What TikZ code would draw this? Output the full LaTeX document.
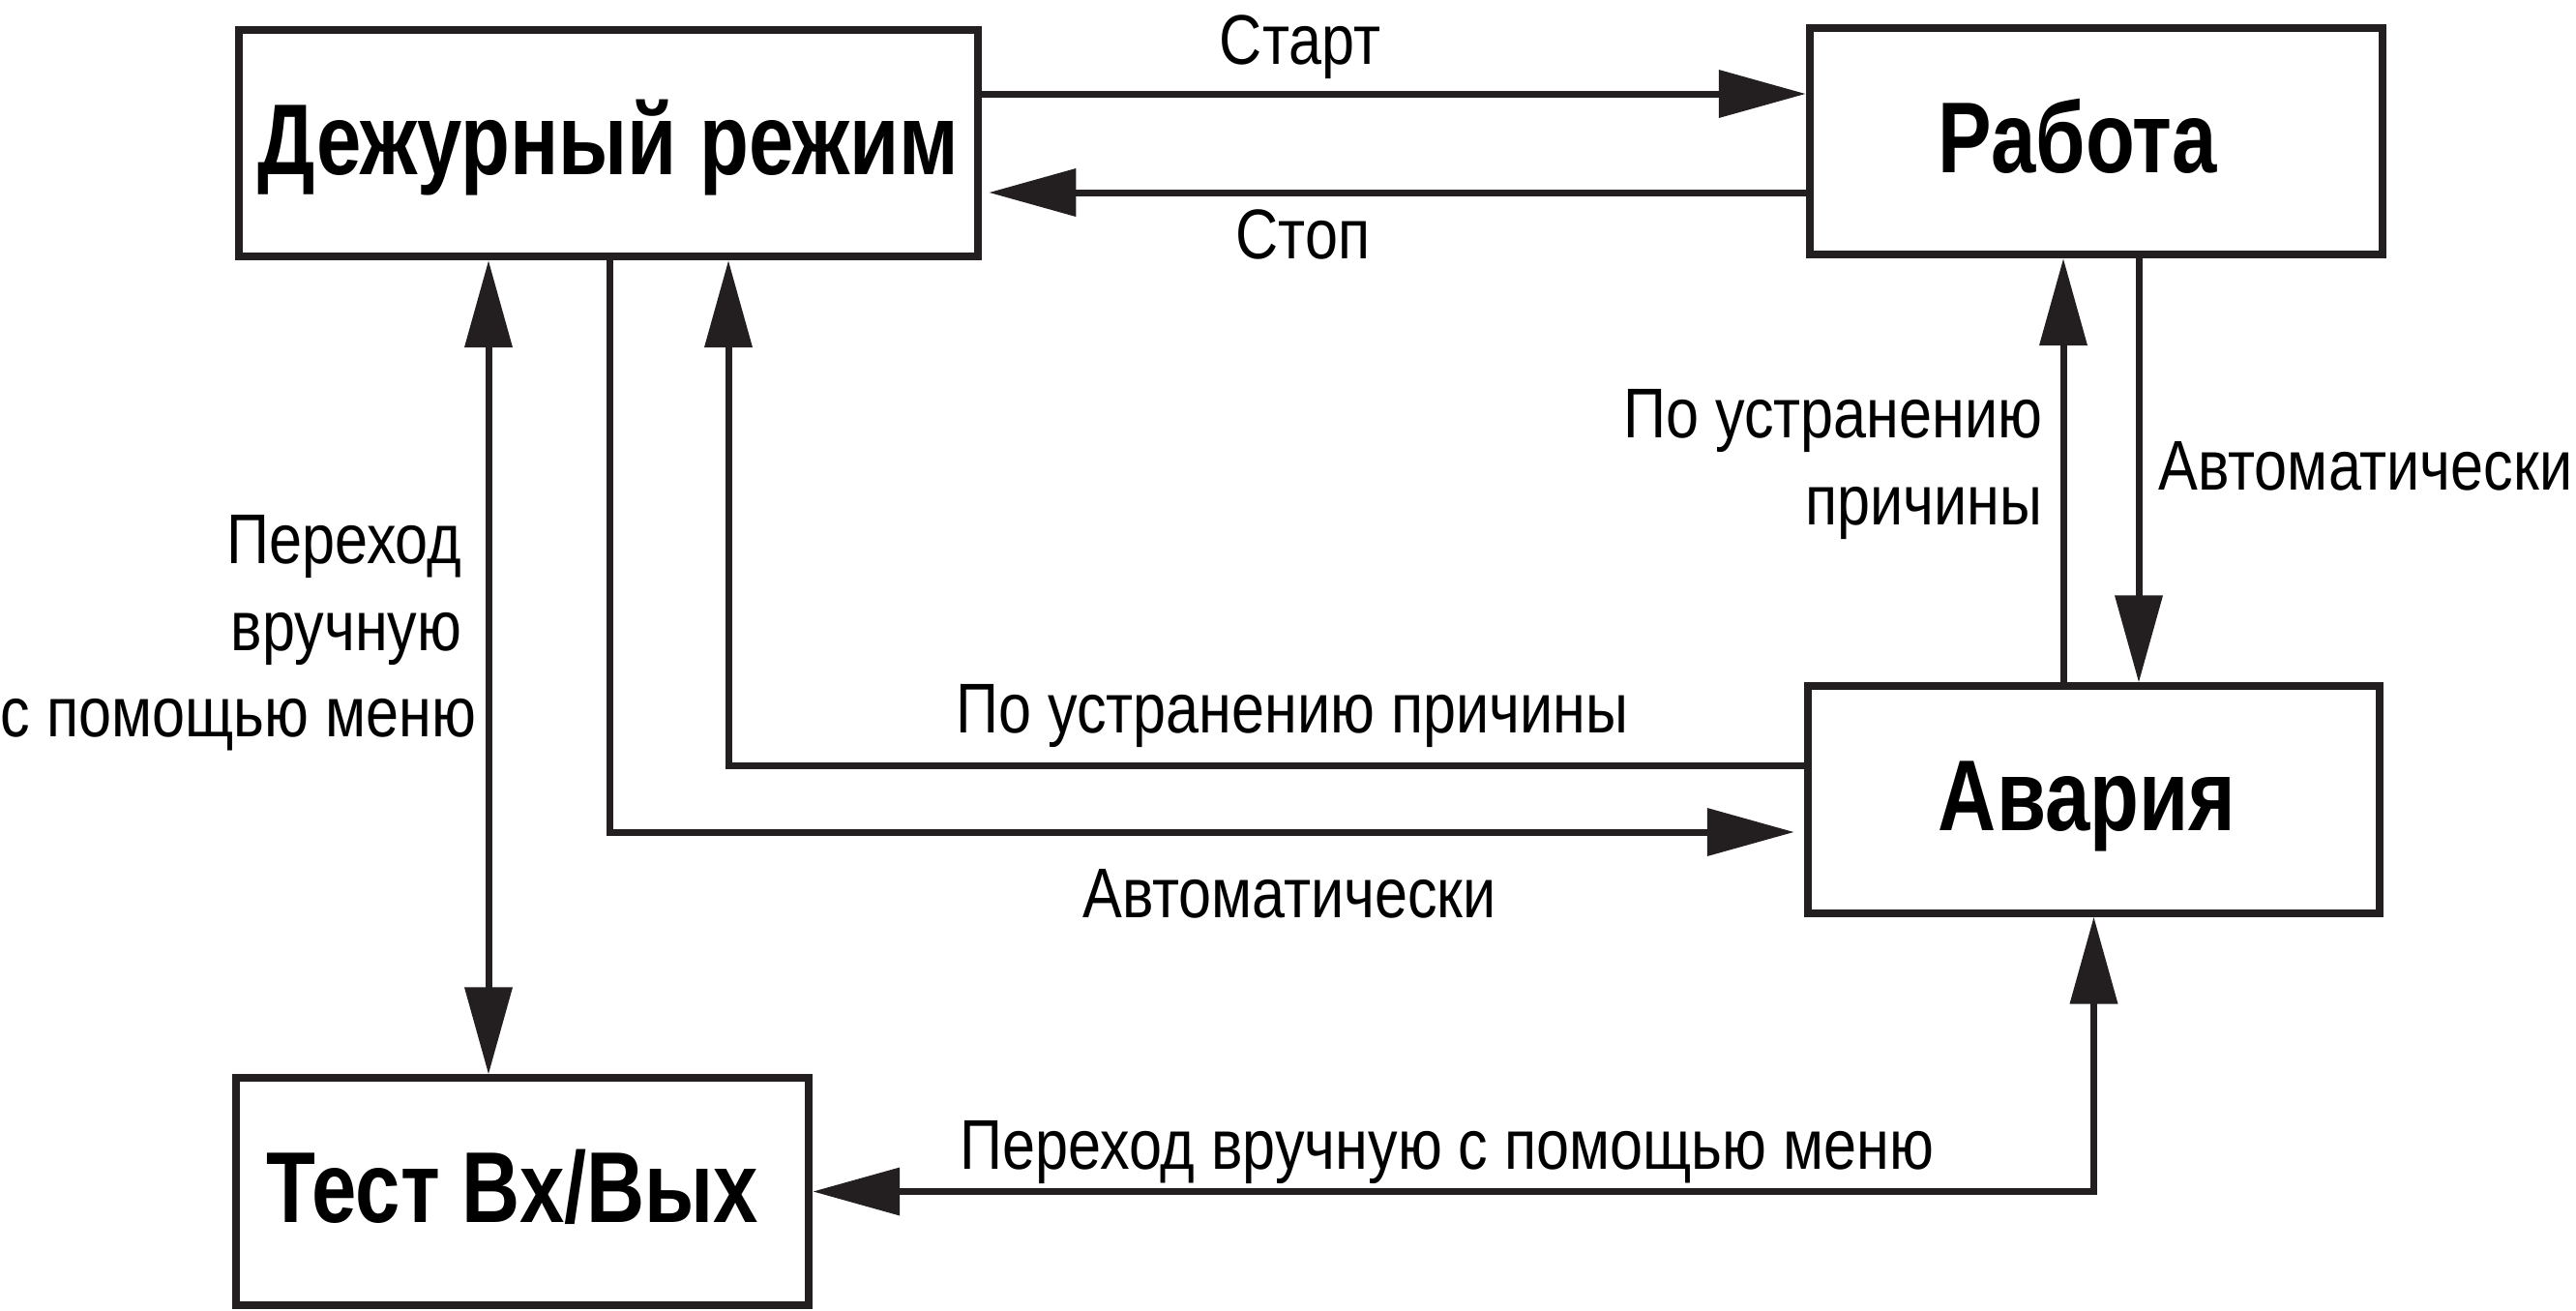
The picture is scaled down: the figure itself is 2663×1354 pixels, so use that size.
\documentclass[tikz,border=0pt]{standalone}
\usepackage{fontspec}
\setmainfont{Liberation Sans}
\newfontfamily\lblfont{Liberation Sans}[FakeStretch=0.84]
\newfontfamily\ttlfont{Liberation Sans}[FakeStretch=0.80]
\usetikzlibrary{arrows.meta}
\definecolor{ink}{HTML}{231F20}
\tikzset{
  statebox/.style={draw=ink, line width=0.08cm, minimum height=2.34cm, inner sep=0pt,
    text height=0.74cm, text depth=0.1cm, font=\ttlfont\bfseries\fontsize{29.6}{35}\selectfont},
  lbl/.style={inner sep=0pt, font=\lblfont\fontsize{20.7}{25.6}\selectfont},
  conn/.style={draw=ink, line width=0.07cm},
  tipend/.style={-{Triangle[length=0.9cm,width=0.48cm]}},
  tipboth/.style={{Triangle[length=0.9cm,width=0.48cm]}-{Triangle[length=0.9cm,width=0.48cm]}}
}
\begin{document}
\begin{tikzpicture}[x=0.01cm,y=-0.01cm]
\path[use as bounding box] (0,0) rectangle (2663,1354);
% states
\node[statebox, minimum width=7.64cm] (duty)  at (629,148)    {Дежурный режим};
\node[statebox, minimum width=5.92cm] (work)  at (2167,146)   {\hspace*{-0.38cm}Работа};
\node[statebox, minimum width=5.91cm] (alarm) at (2164.5,826.5) {\hspace*{-0.14cm}Авария};
\node[statebox, minimum width=5.92cm] (test)  at (540,1231.5) {\hspace*{-0.2cm}Тест Вх/Вых};
% connectors
\draw[conn,tipend] (duty.east |- 0,97) -- (work.west |- 0,97);
\draw[conn,tipend,shorten >=0.07cm] (work.west |- 0,199) -- (duty.east |- 0,199);
\draw[conn,tipend] (alarm.north -| 2133,0) -- (work.south -| 2133,0);
\draw[conn,tipend] (work.south -| 2211,0) -- (alarm.north -| 2211,0);
\draw[conn,tipboth] (duty.south -| 505,0) -- (test.north -| 505,0);
\draw[conn,tipend,shorten >=0.1cm] (duty.south -| 630,0) |- (alarm.west |- 0,860);
\draw[conn,tipend] (alarm.west |- 0,791) -| (duty.south -| 753,0);
\draw[conn,tipboth] (test.east) -| (alarm.south);
% labels
\node[lbl, anchor=base] (lstart) at (1344,66) {Старт};
\node[lbl, anchor=base] (lstop) at (1347,267) {Стоп};
\node[lbl, anchor=base] (lfix) at (1336,757) {По устранению причины};
\node[lbl, anchor=base] (lauto) at (1333,948) {Автоматически};
\node[lbl, anchor=base] (lmenu) at (1496,1208) {Переход вручную с помощью меню};
\node[lbl, anchor=base east] (lfixa) at (2112,452) {По устранению};
\node[lbl, anchor=base east] (lfixb) at (2112,542) {причины};
\node[lbl, anchor=base west] (lautor) at (2231,506) {Автоматически};
\node[lbl, anchor=base east] (lmana) at (478,582) {Переход};
\node[lbl, anchor=base east] (lmanb) at (478,672) {вручную};
\node[lbl, anchor=base east] (lmanc) at (493,761) {с помощью меню};
\end{tikzpicture}
\end{document}
